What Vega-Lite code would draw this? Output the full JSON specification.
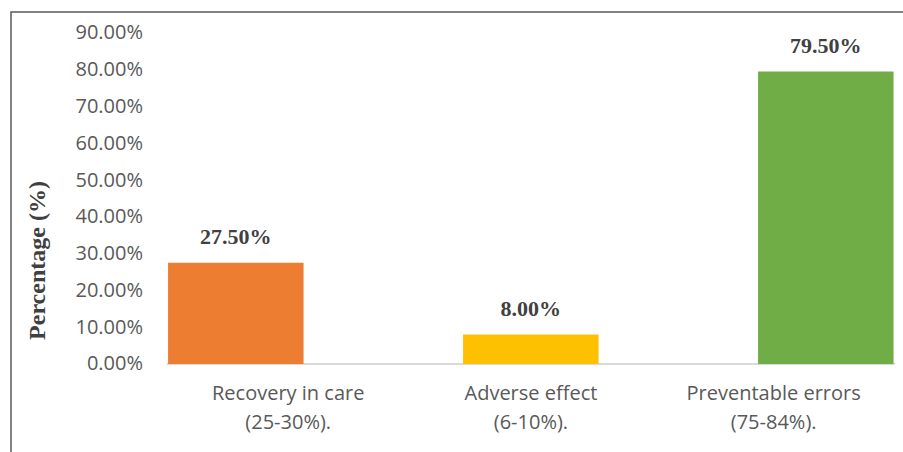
{
  "$schema": "https://vega.github.io/schema/vega-lite/v6.json",
  "autosize": "none",
  "padding": {"left": 11, "top": 12, "right": 0, "bottom": 0},
  "width": 900,
  "height": 445,
  "background": "white",
  "config": {"view": {"stroke": "#595959", "strokeWidth": 1.5}},
  "data": {"values": [
    {"category": "Recovery in care (25-30%).", "value": 0.275},
    {"category": "Adverse effect (6-10%).", "value": 0.08},
    {"category": "Preventable errors (75-84%).", "value": 0.795}
  ]},
  "resolve": {"scale": {"x": "independent"}, "axis": {"x": "independent"}},
  "layer": [
    {
      "mark": {"type": "rule", "color": "#d9d9d9", "strokeWidth": 1.5},
      "encoding": {
        "x": {
          "datum": "Recovery in care (25-30%).", "type": "nominal", "bandPosition": 0,
          "scale": {
            "domain": ["Recovery in care (25-30%).", "Adverse effect (6-10%).", "Preventable errors (75-84%)."],
            "paddingInner": 0, "paddingOuter": 0.354, "align": 0.907
          },
          "axis": {
            "orient": "bottom", "offset": -93, "domain": false, "ticks": false, "grid": false,
            "labelAngle": 0, "labelPadding": 19, "labelBaseline": "top", "labelLineHeight": 29,
            "labelFont": "Open Sans", "labelFontSize": 20, "labelColor": "#595959", "labelLimit": 300,
            "title": null,
            "labelExpr": "[slice(datum.value, 0, indexof(datum.value, ' (')), slice(datum.value, indexof(datum.value, ' (') + 1)]"
          }
        },
        "x2": {"datum": "Preventable errors (75-84%).", "bandPosition": 1},
        "y": {"datum": 0, "type": "quantitative"}
      }
    },
    {
      "encoding": {
        "x": {
          "field": "category", "type": "nominal", "sort": null,
          "scale": {
            "domain": ["Recovery in care (25-30%).", "Adverse effect (6-10%).", "Preventable errors (75-84%)."],
            "paddingInner": 0.5407, "paddingOuter": 0.2958, "align": 0.9
          },
          "axis": null
        }
      },
      "layer": [
        {
          "mark": {"type": "bar"},
          "encoding": {
            "y": {
              "field": "value", "type": "quantitative",
              "scale": {"domain": [-0.2529, 0.9571], "nice": false, "zero": false},
              "axis": {
                "values": [0, 0.1, 0.2, 0.3, 0.4, 0.5, 0.6, 0.7, 0.8, 0.9],
                "format": ".2%", "grid": false, "domain": false, "ticks": false,
                "offset": -133.5, "labelPadding": 2, "labelOverlap": false,
                "labelFont": "Open Sans", "labelFontSize": 20, "labelColor": "#595959",
                "title": "Percentage (%)", "titleFont": "Liberation Serif", "titleFontSize": 24,
                "titleFontWeight": "bold", "titleColor": "#404040",
                "titleX": -107.5, "titleY": 248, "titleAngle": -90, "titleAlign": "center", "titleBaseline": "middle"
              }
            },
            "y2": {"datum": 0},
            "color": {
              "field": "category", "type": "nominal", "sort": null, "legend": null,
              "scale": {
                "domain": ["Recovery in care (25-30%).", "Adverse effect (6-10%).", "Preventable errors (75-84%)."],
                "range": ["#ED7D31", "#FFC000", "#70AD47"]
              }
            }
          }
        },
        {
          "mark": {"type": "text", "font": "Liberation Serif", "fontWeight": "bold", "fontSize": 22, "color": "#404040", "baseline": "alphabetic", "dy": -19},
          "encoding": {
            "y": {"field": "value", "type": "quantitative"},
            "text": {"field": "value", "type": "quantitative", "format": ".2%"}
          }
        }
      ]
    }
  ]
}
